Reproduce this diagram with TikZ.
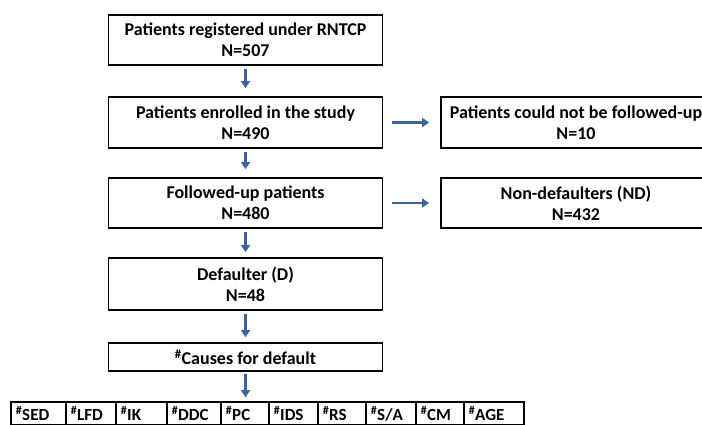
\documentclass[tikz,border=0pt]{standalone}
\usepackage{fontspec}
\setmainfont{Carlito}
\usepackage{xcolor}
\usetikzlibrary{arrows.meta, positioning, calc}

\definecolor{arrowblue}{RGB}{62,98,158}

\tikzset{
  flowbox/.style={draw=black, line width=1.8pt, fill=white, align=center,
    font=\bfseries\fontsize{18}{21}\selectfont, inner sep=0pt},
  causebox/.style={draw=black, line width=1.6pt, fill=white, anchor=west,
    font=\bfseries\fontsize{17}{18}\selectfont, inner xsep=5pt, inner ysep=0pt,
    minimum height=23pt, align=left},
  flowarrow/.style={-{Triangle[length=7pt,width=9pt]}, arrowblue, line width=2.6pt}
}

\begin{document}
\begin{tikzpicture}[x=1pt,y=-1pt]
    \useasboundingbox (0,0) rectangle (702,424);

    % main column
    \node[flowbox, minimum width=274pt, minimum height=50pt] (reg) at (245.5,40)
      {Patients registered under RNTCP\\N=507};
    \node[flowbox, minimum width=274pt, minimum height=51pt] (enr) at (245.5,122.5)
      {Patients enrolled in the study\\N=490};
    \node[flowbox, minimum width=274pt, minimum height=50pt] (fol) at (245.5,203)
      {Followed-up patients\\N=480};
    \node[flowbox, minimum width=274pt, minimum height=52pt] (dft) at (245.5,284)
      {Defaulter (D)\\N=48};
    \node[flowbox, minimum width=274pt, minimum height=28pt] (cause) at (245.5,357)
      {\textsuperscript{\#}Causes for default};

    % side boxes
    \node[flowbox, minimum width=270pt, minimum height=51pt] (lost) at (576,122.5)
      {Patients could not be followed-up\\N=10};
    \node[flowbox, minimum width=270pt, minimum height=50pt] (nondft) at (576,203)
      {Non-defaulters (ND)\\N=432};

    % causes row
    \foreach \nm/\lab/\xl/\xr in {sed/SED/10/65, lfd/LFD/65/115, ik/IK/115/166,
        ddc/DDC/166/220, pc/PC/220/268, ids/IDS/268/317, rs/RS/317/365,
        sa/S\slash A/365/415, cm/CM/415/463, age/AGE/463/523} {
      \pgfmathsetmacro{\bw}{\xr-\xl}
      \pgfmathsetmacro{\tw}{\xr-\xl-10}
      \node[causebox, minimum width=\bw pt, text width=\tw pt] (\nm) at (\xl,413.5)
        {\textsuperscript{\#}\lab};
    }

    % arrows
    \draw[flowarrow, shorten <=3pt, shorten >=8pt] (reg) -- (enr);
    \draw[flowarrow, shorten <=3pt, shorten >=8pt] (enr) -- (fol);
    \draw[flowarrow, shorten <=3pt, shorten >=5pt] (fol) -- (dft);
    \draw[flowarrow, shorten <=3pt, shorten >=5pt] (dft) -- (cause);
    \draw[flowarrow, shorten <=2pt, shorten >=4pt] (cause.south) -- (cause.south |- pc.north);
    \draw[flowarrow, shorten <=9pt, shorten >=11pt] (enr) -- (lost);
    \draw[flowarrow, shorten <=9pt, shorten >=11pt] (fol) -- (nondft);
  \end{tikzpicture}
\end{document}
